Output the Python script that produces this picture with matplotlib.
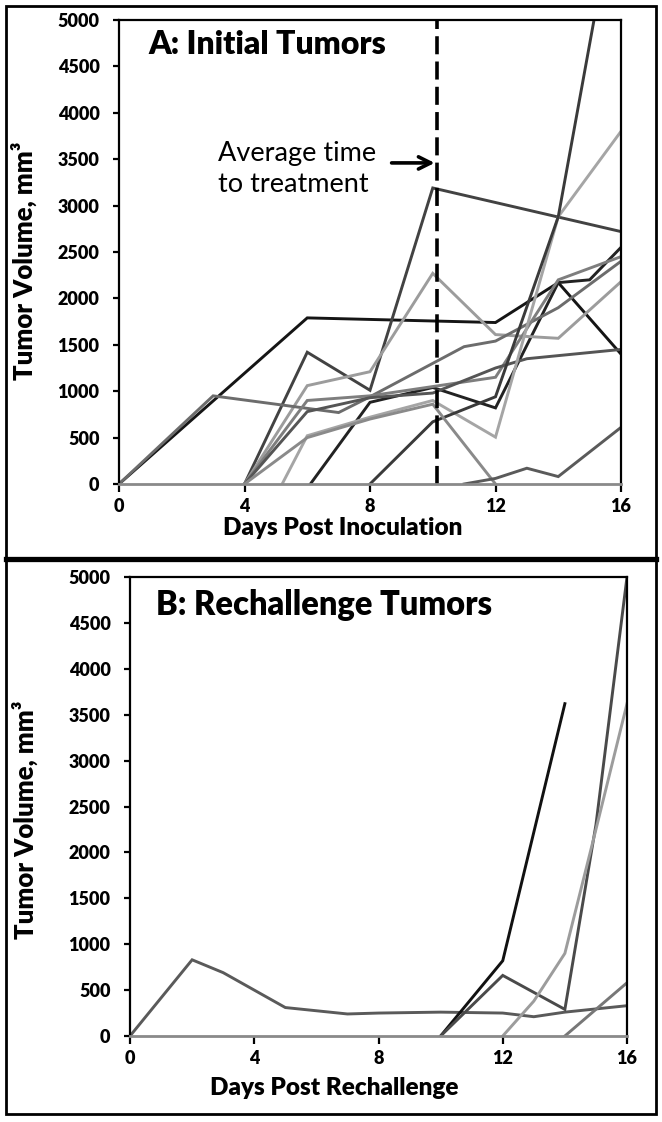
import matplotlib
matplotlib.use('Agg')
import matplotlib.pyplot as plt
from matplotlib.patches import Rectangle
from matplotlib.lines import Line2D

plt.rcParams['font.family'] = ['Lato', 'DejaVu Sans']

# Panel A: days post inoculation / tumor volume (mm3) per mouse
a1_days = [0, 6, 12, 14, 16]
a1_vol = [0, 1790, 1740, 2170, 1400]
a2_days = [6.1, 8, 10, 12, 14, 15, 16]
a2_vol = [0, 880, 1040, 820, 2170, 2200, 2550]
a3_days = [4, 6, 8, 10, 16]
a3_vol = [0, 1420, 1010, 3190, 2720]
a4_days = [4, 6, 8, 10, 12, 14, 16]
a4_vol = [0, 1060, 1210, 2270, 1610, 1570, 2180]
a5_days = [0, 3, 7, 8, 11, 12, 14, 16]
a5_vol = [0, 950, 770, 940, 1480, 1540, 1900, 2400]
a6_days = [4, 6, 8, 10, 12, 14, 16]
a6_vol = [0, 900, 950, 1050, 1150, 2200, 2450]
a7_days = [4, 6, 8, 10, 12, 13, 16]
a7_vol = [0, 780, 930, 980, 1250, 1350, 1450]
a8_days = [5.2, 6, 8, 10, 12, 14, 16]
a8_vol = [0, 520, 720, 900, 505, 2880, 3800]
a9_days = [8, 10, 12, 14, 16]
a9_vol = [0, 670, 940, 2880, 6600]
a10_days = [4, 6, 8, 10, 12]
a10_vol = [0, 500, 700, 860, 0]
a11_days = [11, 12, 13, 14, 16]
a11_vol = [0, 60, 170, 80, 610]

# Panel B: days post rechallenge
b1_days = [0, 2, 3, 5, 7, 8, 10, 12, 13, 14, 16]
b1_vol = [0, 830, 690, 310, 240, 250, 260, 250, 210, 260, 330]
b2_days = [10, 12, 14]
b2_vol = [0, 820, 3620]
b3_days = [10, 12, 14, 15, 16]
b3_vol = [0, 660, 290, 2300, 5000]
b4_days = [12, 13, 14, 15, 16]
b4_vol = [0, 380, 900, 2250, 3620]
b5_days = [14, 16]
b5_vol = [0, 580]

treat_day = 10.15

a_series = [(a1_days, a1_vol), (a2_days, a2_vol), (a3_days, a3_vol), (a4_days, a4_vol),
            (a5_days, a5_vol), (a6_days, a6_vol), (a7_days, a7_vol), (a8_days, a8_vol),
            (a9_days, a9_vol), (a10_days, a10_vol), (a11_days, a11_vol)]
a_colors = ['#151515', '#222222', '#424242', '#9c9c9c', '#6c6c6c', '#7e7e7e',
            '#555555', '#a5a5a5', '#3a3a3a', '#8a8a8a', '#5a5a5a']
b_series = [(b1_days, b1_vol), (b2_days, b2_vol), (b3_days, b3_vol),
            (b4_days, b4_vol), (b5_days, b5_vol)]
b_colors = ['#5a5a5a', '#111111', '#4a4a4a', '#9c9c9c', '#777777']

W, H = 662, 1122
fig = plt.figure(figsize=(W / 100, H / 100), dpi=100)


def px_rect(left, top, right, bottom):
    return [left / W, 1 - bottom / H, (right - left) / W, (bottom - top) / H]


ax1 = fig.add_axes(px_rect(119, 20, 621, 484))
ax2 = fig.add_axes(px_rect(130, 577, 627, 1036))


def style(ax, xlabel, xlab_xy, ylab_xy):
    ax.set_xlim(0, 16)
    ax.set_ylim(0, 5000)
    ax.set_xticks([0, 4, 8, 12, 16])
    ax.set_yticks(range(0, 5001, 500))
    for s in ['left', 'top', 'right']:
        ax.spines[s].set_linewidth(1.6)
        ax.spines[s].set_color('black')
    ax.spines['bottom'].set_linewidth(2)
    ax.spines['bottom'].set_color('#8a8a8a')
    ax.tick_params(axis='y', direction='out', length=4, width=1.6, pad=10,
                   labelsize=13)
    ax.tick_params(axis='x', direction='out', length=6, width=1.6, pad=4,
                   labelsize=13)
    for lab in ax.get_xticklabels() + ax.get_yticklabels():
        lab.set_fontweight('heavy')
    ax.set_xlabel(xlabel, fontsize=17.5, fontweight='heavy')
    ax.xaxis.set_label_coords(*xlab_xy)
    ax.set_ylabel('Tumor Volume, mm³', fontsize=18.5, fontweight='heavy')
    ax.yaxis.set_label_coords(*ylab_xy)


for (d, v), c in zip(a_series, a_colors):
    ax1.plot(d, v, color=c, lw=2.1, solid_joinstyle='miter')
for (d, v), c in zip(b_series, b_colors):
    ax2.plot(d, v, color=c, lw=2.1, solid_joinstyle='miter')

style(ax1, 'Days Post Inoculation', (0.445, -0.071), (-0.163, 0.48))
style(ax2, 'Days Post Rechallenge', (0.41, -0.089), (-0.186, 0.47))

ax1.axvline(treat_day, color='black', lw=2.6, dashes=(5, 2))
ax1.text(3.15, 3390, 'Average time\nto treatment', fontsize=19.5,
         ha='left', va='center', linespacing=1.3)
ax1.annotate('', xy=(treat_day, 3460), xytext=(8.6, 3460),
             arrowprops=dict(arrowstyle='->', lw=2.6, color='black',
                             mutation_scale=22))

ax1.text(0.058, 0.948, 'A: Initial Tumors', transform=ax1.transAxes,
         fontsize=23, fontweight='heavy', ha='left', va='center')
ax2.text(0.052, 0.939, 'B: Rechallenge Tumors', transform=ax2.transAxes,
         fontsize=23.5, fontweight='heavy', ha='left', va='center')

# outer frame and divider
fig.patches.append(Rectangle((6 / W, 1 - 1114 / H), 650 / W, 1108 / H,
                             transform=fig.transFigure, fill=False,
                             lw=2, ec='black'))
fig.lines.append(Line2D([6 / W, 656 / W], [1 - 559 / H, 1 - 559 / H],
                        transform=fig.transFigure, lw=3.8, color='black'))

fig.savefig('out.png', dpi=100)
